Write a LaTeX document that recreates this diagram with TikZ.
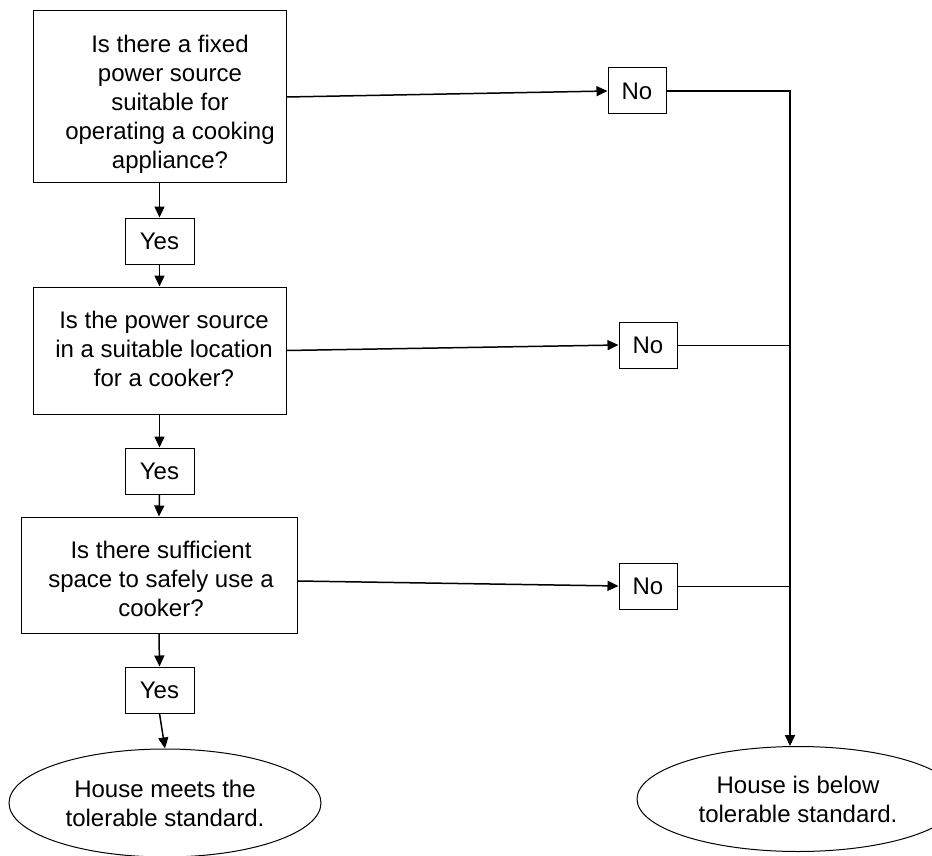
\documentclass[tikz,border=0pt]{standalone}
\usepackage{fontspec}
\setmainfont{Liberation Sans}
\usetikzlibrary{arrows.meta,shapes.geometric}
\begin{document}
\begin{tikzpicture}[x=1pt,y=-1pt,
  box/.style={draw, line width=1pt, inner sep=0pt},
  txt/.style={align=center, font=\fontsize{24}{29}\selectfont, inner sep=0pt},
  answer/.style={box, txt, minimum width=69pt, minimum height=46pt},
  noans/.style={box, txt, minimum width=58pt, minimum height=46pt},
  outcome/.style={draw, line width=1pt, ellipse, inner sep=0pt, txt},
  flow/.style={line width=1.5pt, -{Triangle[length=11pt,width=10pt]}},
  trunk/.style={line width=1.8pt, -{Triangle[length=11pt,width=10pt]}},
  feed/.style={line width=0.9pt}
]
\useasboundingbox (0,0) rectangle (932,856);

% question boxes and their wording
\node[box, minimum width=253pt, minimum height=172pt] (q1) at (159.5,97) {};
\node[txt] (q1t) at (170,104) {Is there a fixed\\power source\\suitable for\\operating a cooking\\appliance?};

\node[box, minimum width=253pt, minimum height=127pt] (q2) at (159.5,350.5) {};
\node[txt] (q2t) at (164,349) {Is the power source\\in a suitable location\\for a cooker?};

\node[box, minimum width=276pt, minimum height=116pt] (q3) at (159,575) {};
\node[txt] (q3t) at (161,579) {Is there sufficient\\space to safely use a\\cooker?};

% answers
\node[answer] (y1) at (159.5,241) {Yes};
\node[answer] (y2) at (159.5,471) {Yes};
\node[answer] (y3) at (159.5,690) {Yes};

\node[noans] (n1) at (637,91) {No};
\node[noans] (n2) at (648,345) {No};
\node[noans] (n3) at (648,586) {No};

% outcomes
\node[outcome, minimum width=312pt, minimum height=108pt] (e1) at (165,803) {House meets the\\tolerable standard.};
\node[outcome, minimum width=322pt, minimum height=105pt] (e2) at (798,799) {House is below\\tolerable standard.};

% "yes" path
\draw[flow] (q1.south) -- (y1.north);
\draw[flow] (y1.south) -- (q2.north);
\draw[flow] (q2.south) -- (y2.north);
\draw[flow] (y2.south) -- (q3.north);
\draw[flow] (q3.south) -- (y3.north);
\draw[flow] (y3.south) -- (e1.north);

% "no" path
\draw[flow] (q1.east) -- (n1.west);
\draw[flow] (q2.east) -- (n2.west);
\draw[flow] ([yshift=-6pt]q3.east) -- (n3.west);

\coordinate (j1) at (790,91);
\draw[trunk] (n1.east) -- (j1) -- (j1 |- e2.north);
\draw[feed] (n2.east) -- (n2.east -| j1);
\draw[feed] (n3.east) -- (n3.east -| j1);
\end{tikzpicture}
\end{document}
